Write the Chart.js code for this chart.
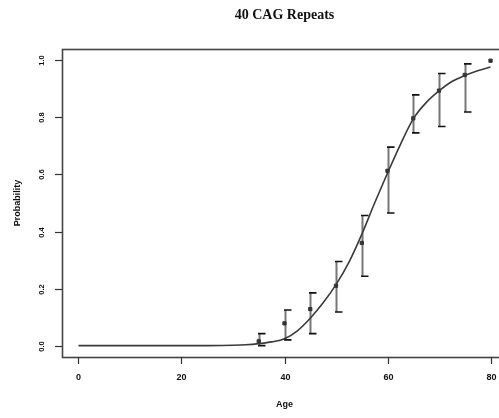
<!DOCTYPE html>
<html><head><meta charset="utf-8">
<script src="https://cdn.jsdelivr.net/npm/chart.js@4/dist/chart.umd.min.js"></script>
<style>
html,body{margin:0;padding:0;overflow:hidden;background:#fff;width:499px;height:418px}
#wrap{position:absolute;left:0;top:0;width:520px;height:418px}
</style></head><body>
<div id="wrap"><canvas id="c" width="520" height="418"></canvas></div>
<script>
const chartTitle = "40 CAG Repeats";
const xTitle = "Age";
const yTitle = "Probability";
const xTicks = [0, 20, 40, 60, 80];
const yTicks = [0, 0.2, 0.4, 0.6, 0.8, 1.0];
const obsAge  = [35, 40, 45, 50, 55, 60, 65, 70, 75, 80];
const obsProb = [0.015, 0.078, 0.128, 0.21, 0.36, 0.613, 0.797, 0.894, 0.949, 0.999];
const ciLower = [0.0, 0.02, 0.042, 0.118, 0.243, 0.465, 0.746, 0.768, 0.819, null];
const ciUpper = [0.042, 0.125, 0.185, 0.295, 0.456, 0.696, 0.879, 0.954, 0.988, null];
const fitAge  = [0, 10, 20, 25, 30, 32.5, 35, 37.5, 40, 42.5, 45, 47.5, 50, 52.5, 55, 57.5, 60, 62.5, 65, 67.5, 70, 72.5, 75, 77.5, 80];
const fitProb = [0, 0, 0, 0, 0.001, 0.003, 0.007, 0.013, 0.024, 0.052, 0.096, 0.15, 0.214, 0.292, 0.39, 0.5, 0.605, 0.705, 0.795, 0.852, 0.893, 0.926, 0.947, 0.964, 0.977];

const fitPts = fitAge.map((a, i) => ({x: a, y: fitProb[i]}));
const obsPts = obsAge.map((a, i) => ({x: a, y: obsProb[i]}));

const axesPlugin = {
  id: 'rAxes',
  beforeDatasetsDraw(chart) {
    const {ctx, scales: {x, y}} = chart;
    ctx.save();
    obsAge.forEach((a, i) => {
      if (ciLower[i] == null) return;
      const px = Math.round(x.getPixelForValue(a)) + 0.5;
      const pl = y.getPixelForValue(ciLower[i]);
      const pu = y.getPixelForValue(ciUpper[i]);
      ctx.strokeStyle = '#777';
      ctx.lineWidth = 2;
      ctx.beginPath(); ctx.moveTo(px, pl); ctx.lineTo(px, pu); ctx.stroke();
      ctx.strokeStyle = '#111';
      ctx.lineWidth = 1.6;
      ctx.beginPath();
      ctx.moveTo(px - 1.5, pu); ctx.lineTo(px + 6, pu);
      ctx.moveTo(px - 1.5, pl); ctx.lineTo(px + 6, pl);
      ctx.stroke();
    });
    ctx.restore();
  },
  afterDraw(chart) {
    const {ctx, chartArea: ca, scales: {x, y}} = chart;
    ctx.save();
    ctx.strokeStyle = '#444';
    ctx.lineWidth = 1.6;
    ctx.strokeRect(Math.round(ca.left) + 0.5, Math.round(ca.top) + 0.5, ca.right - ca.left, ca.bottom - ca.top);
    ctx.fillStyle = '#111';
    ctx.strokeStyle = '#333';
    // y ticks
    ctx.lineWidth = 1.2;
    ctx.font = "bold 7.5px 'Liberation Sans'";
    ctx.textAlign = 'center';
    ctx.textBaseline = 'middle';
    yTicks.forEach(v => {
      const py = Math.round(y.getPixelForValue(v)) + 0.5;
      ctx.beginPath(); ctx.moveTo(ca.left - 7, py); ctx.lineTo(ca.left, py); ctx.stroke();
      ctx.save();
      ctx.translate(ca.left - 20, py);
      ctx.rotate(-Math.PI / 2);
      ctx.fillText(v.toFixed(1), 0, 0);
      ctx.restore();
    });
    // x ticks
    ctx.font = "bold 9px 'Liberation Sans'";
    xTicks.forEach(v => {
      const px = Math.round(x.getPixelForValue(v)) + 0.5;
      ctx.beginPath(); ctx.moveTo(px, ca.bottom); ctx.lineTo(px, ca.bottom + 7); ctx.stroke();
      ctx.fillText(String(v), px, ca.bottom + 21);
    });
    // axis titles
    ctx.font = "bold 9px 'Liberation Sans'";
    ctx.fillText(xTitle, (ca.left + ca.right) / 2, 405);
    ctx.save();
    ctx.translate(18, (ca.top + ca.bottom) / 2);
    ctx.rotate(-Math.PI / 2);
    ctx.fillText(yTitle, 0, 0);
    ctx.restore();
    // title
    ctx.font = "bold 14px 'Liberation Serif'";
    ctx.fillText(chartTitle, (ca.left + ca.right) / 2, 15);
    ctx.restore();
  }
};

new Chart(document.getElementById('c'), {
  type: 'scatter',
  data: {
    datasets: [
      {
        data: fitPts, showLine: true, borderColor: '#3a3a3a', borderWidth: 1.6,
        pointRadius: 0, cubicInterpolationMode: 'monotone', fill: false
      },
      {
        data: obsPts, showLine: false, pointStyle: 'rect', pointRadius: 2.3,
        backgroundColor: '#333', borderColor: '#333', borderWidth: 1
      }
    ]
  },
  options: {
    responsive: false,
    animation: false,
    devicePixelRatio: 1,
    layout: {padding: {left: 62, top: 49, right: 13, bottom: 61}},
    plugins: {legend: {display: false}, tooltip: {enabled: false}, title: {display: false}},
    scales: {
      x: {type: 'linear', min: -3.2, max: 83.2, display: false},
      y: {type: 'linear', min: -0.04, max: 1.04, display: false}
    }
  },
  plugins: [axesPlugin]
});
</script>
</body></html>
